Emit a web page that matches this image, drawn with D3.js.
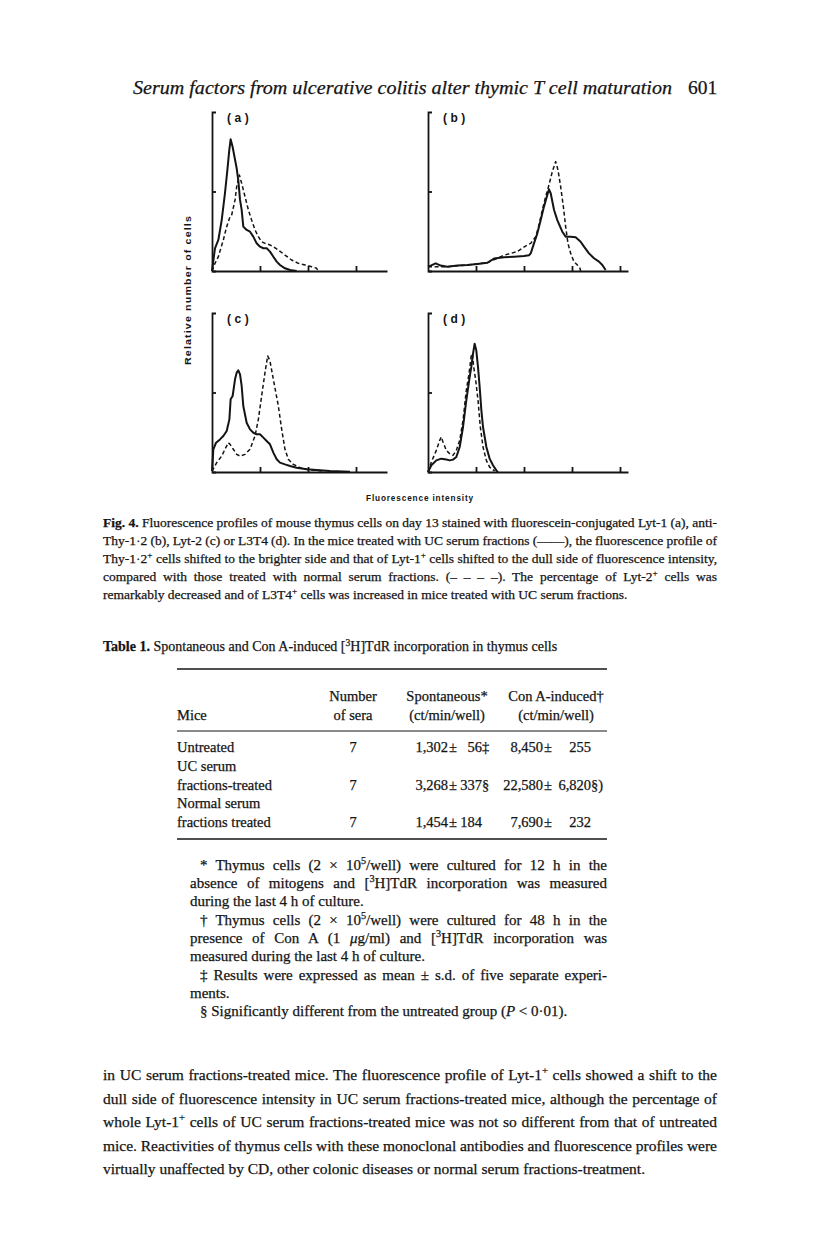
<!DOCTYPE html>
<html>
<head>
<meta charset="utf-8">
<script src="https://cdn.jsdelivr.net/npm/d3@7"></script>
<style>
  body { margin: 0; background: #fff; }
  svg { display: block; }
  .serif { font-family: "Liberation Serif", "Times New Roman", serif; fill: #141414; stroke: #141414; stroke-width: 0.25px; }
  .sans { font-family: "Liberation Sans", Arial, sans-serif; font-weight: bold; fill: #141414; }
</style>
</head>
<body>
<svg id="page" width="816" height="1238"></svg>
<script>
// ---- histogram data: [channel, relative number of cells] ----
const lyt1UC     = [[0,0],[3.1,14.3],[6.6,19.5],[10.1,32],[13.5,48.9],[16,63.5],[18,76],[19.4,82.8],[21.5,78],[24,70],[25.7,64.6],[27.4,57],[29.2,44.7],[30.9,38.4],[32.6,27.9],[36.1,25.8],[39.6,24.7],[43,21.6],[46.5,17.4],[50,15.3],[53.5,14.3],[57,14.3],[60.4,12.2],[63.9,9],[67.4,5.9],[70.8,3.8],[76,1.7],[81.3,0.6],[88.2,0]];
const lyt1Normal = [[0,0],[3.1,4.8],[6.6,9],[11.8,19.5],[15.3,27.9],[18.8,34.2],[20.5,35.2],[24,44.7],[25.7,53],[28.5,60.4],[30.9,55.2],[34.4,46.8],[37.9,38.4],[41.3,32],[44.8,25.8],[48.3,21.6],[51.7,18.4],[55.2,17.4],[60.4,16.4],[63.9,15.3],[69.1,13.2],[76,10],[83,6.9],[90,4.8],[97,3.8],[103.8,2.7],[109,1.7],[110.8,0]];

const thy12UC     = [[0,2.7],[2.8,3.4],[8,4.8],[13.2,3.4],[20.1,2.7],[30.6,3.4],[41,3.8],[51.4,4.4],[61.8,5.2],[68.8,7.8],[79.2,8.6],[89.6,9],[100,9.4],[105.2,9.9],[107,11.1],[110.4,17.4],[113.9,23.7],[117.4,32],[120.8,40.5],[124.3,47.8],[126,51.4],[127.8,48.9],[131.3,38.4],[134.7,32],[139.9,24.7],[143.4,21.6],[148.6,21.6],[153.8,21.2],[159,18.4],[162.5,15.3],[167.7,11.1],[172.9,8],[178.1,5.9],[181.6,3.8],[185,0.6]];
const thy12Normal = [[0,2.7],[20.1,2.7],[41,3.8],[61.8,5.2],[79.2,9.9],[93,12.2],[103.5,16.4],[107,17.4],[112.2,21.6],[115.6,28.9],[119.1,38.4],[122.6,46.8],[126,54.1],[129.5,62.5],[133,68.8],[135.4,63.5],[138.2,53],[141,40.5],[143.4,27.9],[145.8,17.4],[148.6,11.1],[152,5.9],[155.6,3.8],[158.3,1.7],[159,0]];

const lyt2UC     = [[0,0.6],[1.4,14.3],[4.2,18.4],[8.3,20.5],[11.8,22.6],[15.3,25.8],[18.1,33.1],[19.4,45.7],[21.5,47.8],[24,58.3],[25.7,62.5],[27.4,63.9],[29.2,61.4],[30.9,54.1],[32.6,41.5],[36.1,31],[39.6,26.8],[43.1,24.7],[46.5,23.7],[50,23.7],[53.5,21.6],[56.9,19.5],[60.4,17.4],[63.9,12.2],[67.4,8],[70.8,5.9],[76,4.8],[81.3,3.8],[88.2,2.7],[98.6,1.7],[109,1.3],[122.9,0.6],[143.8,0.2]];
const lyt2Normal = [[0,0.6],[4.9,5.9],[10.1,10],[13.5,14.3],[17,18.4],[18.8,17.4],[22.2,14.3],[25.7,11.1],[29.2,10],[34.4,11.1],[39.6,14.3],[44.8,22.6],[48.3,33.1],[51.7,47.8],[55.2,62.5],[58,73],[60.4,69.8],[63.9,58.3],[69.1,41.5],[72.6,26.8],[76,14.3],[79.5,8],[84.7,4.8],[91.7,2.7],[102,1.3],[116,0.6]];

const l3t4UC     = [[0,0],[3.5,4.2],[8.7,7.3],[13.9,8.4],[19.1,7.8],[22.6,7.3],[26,7.8],[29.5,9.4],[33,15.7],[36.5,28.3],[39.9,45.1],[43.4,59.7],[45.1,66],[46.9,74.4],[48.6,80.7],[50.3,76.5],[52.1,66],[53.8,53.5],[55.6,38.8],[57.3,28.3],[60.8,15.7],[64.2,8.4],[67.7,4.2],[71.2,1],[72.9,0]];
const l3t4Normal = [[0,0],[3.5,6.3],[8.7,13.6],[12.2,19.9],[13.9,22],[15.6,18.9],[19.1,13.6],[22.6,11.5],[26,10.5],[29.5,13.6],[33,19.9],[36.5,32.5],[39.9,51.4],[42.7,61.8],[45.1,73.4],[46.2,74.4],[47.6,66],[49.7,57.7],[52.1,45.1],[54.5,28.3],[57.3,15.7],[60.8,7.3],[64.2,3.1],[69.4,0.6]];

const panelLabels = ["(a)", "(b)", "(c)", "(d)"];
const leftTicks = [50, 100, 150];
const rightTicks = [50, 100, 150, 200];
const yTicks = [50];

// ---- page text ----
const runningHead = "Serum factors from ulcerative colitis alter thymic T cell maturation";
const pageNumber = "601";
const yTitle = "Relative number of cells";
const xTitle = "Fluorescence intensity";

const captionLines = [
  "{b:Fig. 4.} Fluorescence profiles of mouse thymus cells on day 13 stained with fluorescein-conjugated Lyt-1 (a), anti-",
  "Thy-1·2 (b), Lyt-2 (c) or L3T4 (d). In the mice treated with UC serum fractions (——), the fluorescence profile of",
  "Thy-1·2{s:+} cells shifted to the brighter side and that of Lyt-1{s:+} cells shifted to the dull side of fluorescence intensity,",
  "compared with those treated with normal serum fractions. (– – – –). The percentage of Lyt-2{s:+} cells was",
  "remarkably decreased and of L3T4{s:+} cells was increased in mice treated with UC serum fractions."
];

const tableTitle = "{b:Table 1.} Spontaneous and Con A-induced [{s:3}H]TdR incorporation in thymus cells";
const tableHeads = [["", "Mice"], ["Number", "of sera"], ["Spontaneous*", "(ct/min/well)"], ["Con A-induced†", "(ct/min/well)"]];
const miceGroups = [["Untreated"], ["UC serum", "fractions-treated"], ["Normal serum", "fractions treated"]];
const seraCount = ["7", "7", "7"];
const spontMean = ["1,302", "3,268", "1,454"];
const spontSd = ["56", "337", "184"];
const spontMark = ["‡", "§", ""];
const conaMean = ["8,450", "22,580", "7,690"];
const conaSd = ["255", "6,820", "232"];
const conaMark = ["", "§)", ""];

const footLines = [
  ["* Thymus cells (2 × 10{s:5}/well) were cultured for 12 h in the", true, true],
  ["absence of mitogens and [{s:3}H]TdR incorporation was measured", false, true],
  ["during the last 4 h of culture.", false, false],
  ["† Thymus cells (2 × 10{s:5}/well) were cultured for 48 h in the", true, true],
  ["presence of Con A (1 {i:μ}g/ml) and [{s:3}H]TdR incorporation was", false, true],
  ["measured during the last 4 h of culture.", false, false],
  ["‡ Results were expressed as mean ± s.d. of five separate experi-", true, true],
  ["ments.", false, false],
  ["§ Significantly different from the untreated group ({i:P} < 0·01).", true, false]
];

const bodyLines = [
  "in UC serum fractions-treated mice. The fluorescence profile of Lyt-1{s:+} cells showed a shift to the",
  "dull side of fluorescence intensity in UC serum fractions-treated mice, although the percentage of",
  "whole Lyt-1{s:+} cells of UC serum fractions-treated mice was not so different from that of untreated",
  "mice. Reactivities of thymus cells with these monoclonal antibodies and fluorescence profiles were",
  "virtually unaffected by CD, other colonic diseases or normal serum fractions-treatment."
];

const ink = "#141414";
const svg = d3.select("#page");

// small markup: {b:..} bold, {i:..} italic, {s:..} superscript
function richText(x, y, src, o) {
  const t = svg.append("text").attr("class", "serif").attr("x", x).attr("y", y)
    .style("font-size", o.size + "px");
  if (o.italic) t.style("font-style", "italic");
  const re = /\{([bsi]):([^}]*)\}/g;
  const parts = [];
  let last = 0, m;
  while ((m = re.exec(src))) {
    if (m.index > last) parts.push(["", src.slice(last, m.index)]);
    parts.push([m[1], m[2]]);
    last = re.lastIndex;
  }
  if (last < src.length) parts.push(["", src.slice(last)]);
  const up = o.size * 0.38;
  let raised = false;
  parts.forEach(([k, s]) => {
    const ts = t.append("tspan").text(s);
    if (k === "b") ts.style("font-weight", "bold");
    if (k === "i") ts.style("font-style", "italic");
    if (k === "s") {
      ts.attr("dy", -up).style("font-size", (o.size * 0.68) + "px");
      raised = true;
    } else if (raised) {
      ts.attr("dy", up);
      raised = false;
    }
  });
  if (o.width) {
    const plain = src.replace(re, "$2");
    const spaces = (plain.match(/ /g) || []).length;
    const natural = t.node().getComputedTextLength();
    if (spaces) t.attr("word-spacing", (o.width - natural) / spaces);
  }
  return t;
}

// ---- running head ----
svg.append("text").attr("class", "serif").attr("x", 133).attr("y", 94)
  .style("font-size", "19.5px").style("font-style", "italic")
  .attr("textLength", 539).attr("lengthAdjust", "spacingAndGlyphs")
  .text(runningHead);
svg.append("text").attr("class", "serif").attr("x", 688).attr("y", 94)
  .style("font-size", "19.5px").text(pageNumber);

// ---- histogram panels ----
const panels = [
  { ox: 212, base: 271, top: 112, len: 175, ticks: leftTicks,  uc: lyt1UC,  normal: lyt1Normal },
  { ox: 428, base: 271, top: 112, len: 200, ticks: rightTicks, uc: thy12UC, normal: thy12Normal },
  { ox: 212, base: 472, top: 313, len: 175, ticks: leftTicks,  uc: lyt2UC,  normal: lyt2Normal },
  { ox: 428, base: 472, top: 313, len: 200, ticks: rightTicks, uc: l3t4UC,  normal: l3t4Normal }
];
const pxPerChannel = 48 / 50;

panels.forEach((p, i) => {
  const x = d3.scaleLinear().domain([0, p.len / pxPerChannel]).range([p.ox, p.ox + p.len]);
  const y = d3.scaleLinear().domain([0, 100]).range([p.base, p.top]);
  const g = svg.append("g").attr("color", ink);

  g.append("g").attr("transform", `translate(0,${p.base})`)
    .call(d3.axisTop(x).tickValues(p.ticks).tickSize(5).tickSizeOuter(0).tickFormat(""))
    .call(a => a.selectAll("path,line").attr("stroke-width", 1.8));
  g.append("g").attr("transform", `translate(${p.ox},0)`)
    .call(d3.axisRight(y).tickValues(yTicks).tickSize(4).tickSizeOuter(4).tickFormat(""))
    .call(a => a.selectAll("path,line").attr("stroke-width", 1.8));

  const line = d3.line().x(d => x(d[0])).y(d => y(d[1]));
  g.append("path").datum(p.normal).attr("d", line)
    .attr("fill", "none").attr("stroke", ink).attr("stroke-width", 1.5)
    .attr("stroke-dasharray", "4,2.6").attr("stroke-linejoin", "round");
  g.append("path").datum(p.uc).attr("d", line)
    .attr("fill", "none").attr("stroke", ink).attr("stroke-width", 2)
    .attr("stroke-linejoin", "round");

  g.append("text").attr("class", "sans").attr("x", p.ox + 15).attr("y", p.top + 10)
    .style("font-size", "12px").style("letter-spacing", "3.5px")
    .text(panelLabels[i]);
});

svg.append("text").attr("class", "sans")
  .attr("transform", "translate(191,290) rotate(-90)")
  .attr("text-anchor", "middle")
  .style("font-size", "9.5px").style("letter-spacing", "1px")
  .attr("textLength", 150).attr("lengthAdjust", "spacingAndGlyphs")
  .text(yTitle);
svg.append("text").attr("class", "sans")
  .attr("x", 366).attr("y", 501)
  .style("font-size", "9.5px").style("letter-spacing", "1px")
  .attr("textLength", 108).attr("lengthAdjust", "spacingAndGlyphs")
  .text(xTitle);

// ---- caption ----
const capBase = [527, 545, 563, 581, 599];
captionLines.forEach((s, i) => {
  richText(103, capBase[i], s, { size: 13.5, width: i < 4 ? 614 : null });
});

// ---- table ----
richText(103, 651, tableTitle, { size: 14 });
const rule = (y0, w) => svg.append("line").attr("x1", 177).attr("x2", 607)
  .attr("y1", y0).attr("y2", y0).attr("stroke", ink).attr("stroke-width", w);
rule(669, 1.6);
rule(731, 1);
rule(839, 1.6);

const colX = [177, 353, 447, 556];
tableHeads.forEach((h, c) => {
  h.forEach((s, r) => {
    if (!s) return;
    svg.append("text").attr("class", "serif")
      .attr("x", colX[c]).attr("y", 701 + r * 19)
      .attr("text-anchor", c === 0 ? "start" : "middle")
      .style("font-size", "14.5px").text(s);
  });
});

const rowLines = [752, 771, 790, 808, 827];
let li = 0;
miceGroups.forEach((grp, r) => {
  grp.forEach(s => {
    svg.append("text").attr("class", "serif").attr("x", colX[0]).attr("y", rowLines[li++])
      .style("font-size", "14.5px").text(s);
  });
  const yb = rowLines[li - 1];
  const cell = (x, s, anchor) => svg.append("text").attr("class", "serif")
    .attr("x", x).attr("y", yb).attr("text-anchor", anchor)
    .style("font-size", "14.5px").text(s);
  cell(353, seraCount[r], "middle");
  cell(448, spontMean[r], "end");
  cell(449, "±", "start");
  cell(482, spontSd[r], "end");
  cell(482, spontMark[r], "start");
  cell(543, conaMean[r], "end");
  cell(544, "±", "start");
  cell(591, conaSd[r], "end");
  cell(591, conaMark[r], "start");
});

// ---- table footnotes ----
const footBase = [870, 888, 906, 925, 943, 961, 980, 998, 1016];
footLines.forEach(([s, indent, just], i) => {
  const x0 = indent ? 200 : 190;
  richText(x0, footBase[i], s, { size: 15, width: just ? 607 - x0 : null });
});

// ---- body text ----
const bodyBase = [1080, 1104, 1127, 1151, 1174];
bodyLines.forEach((s, i) => {
  richText(103, bodyBase[i], s, { size: 15.5, width: i < 4 ? 614 : null });
});
</script>
</body>
</html>
